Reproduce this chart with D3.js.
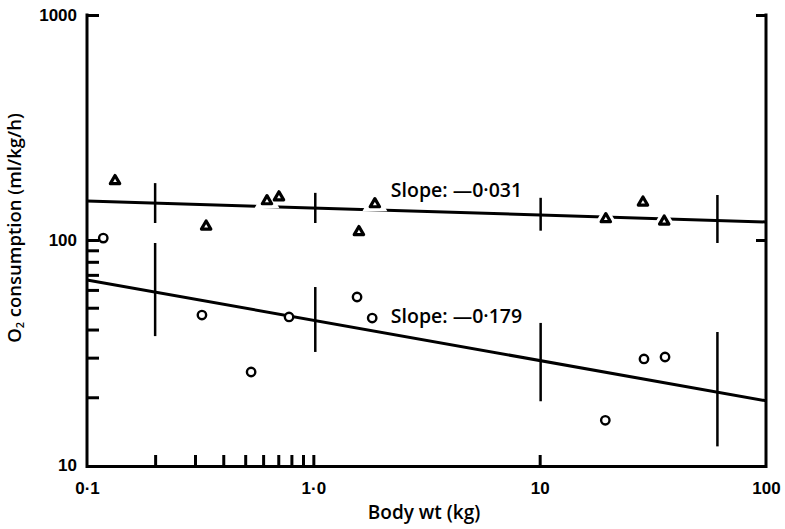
<!DOCTYPE html>
<html>
<head>
<meta charset="utf-8">
<script src="https://cdn.jsdelivr.net/npm/d3@7"></script>
<style>
  body { margin: 0; background: #fff; }
  svg { display: block; }
  .tick-num { font-family: "Liberation Sans", Arial, sans-serif; font-weight: bold; font-size: 17px; fill: #000; }
  .title { font-family: "Open Sans", "Lato", sans-serif; font-weight: 600; fill: #000; }
</style>
</head>
<body>
<svg id="chart" width="785" height="529"></svg>
<script>
// Triangles (upper series)
const triMass = [0.133, 0.336, 0.624, 0.705, 1.59, 1.87, 19.6, 28.6, 35.5];
const triO2 = [183, 115, 149, 155, 108.6, 144.5, 124, 147, 121];

// Circles (lower series)
const circMass = [0.118, 0.322, 0.531, 0.781, 1.56, 1.82, 19.5, 28.9, 35.8];
const circO2 = [102, 46.4, 25.9, 45.5, 55.8, 45, 15.8, 29.6, 30.2];

// Regression lines: O2 = a * wt^b
const slopes = [-0.031, -0.179];
const intercepts = [138.7, 44];
const slopeLabels = ["Slope: \u20140\u00b7031", "Slope: \u20140\u00b7179"];

// Vertical range bars on each line
const barMass = [0.2, 1.02, 10.1, 61];
const upperLow = [119, 119, 110, 97];
const upperHigh = [179, 162, 154, 158.5];
const lowerLow = [37.4, 31.8, 19.2, 12.1];
const lowerHigh = [97, 61.8, 42.8, 39];

// Tick values
const yMajor = [10, 100, 1000];
const yMinor = [20, 30, 40, 50, 60, 70, 80, 90, 100, 1000];
const xMajor = [0.1, 1, 10, 100];
const xLabels = ["0\u00b71", "1\u00b70", "10", "100"];
const xMinor = [0.2, 0.3, 0.4, 0.5, 0.6, 0.7, 0.8, 0.9, 1, 10];

const svg = d3.select('#chart');

const x = d3.scaleLog().domain([0.1, 100]).range([87, 766]);
const y = d3.scaleLog().domain([10, 1000]).range([465, 15]);

// frame: left, right, bottom
const frame = svg.append('g').attr('stroke', '#000').attr('stroke-width', 3);
frame.append('line').attr('x1', x(0.1)).attr('x2', x(0.1)).attr('y1', y(1000) - 1.5).attr('y2', y(10) + 3);
frame.append('line').attr('x1', x(100)).attr('x2', x(100)).attr('y1', y(1000) - 1.5).attr('y2', y(10) + 3);
frame.append('line').attr('x1', x(0.1)).attr('x2', x(100)).attr('y1', y(10) + 1.5).attr('y2', y(10) + 1.5);

const styleAxis = (g, w) => {
  g.select('.domain').remove();
  g.selectAll('.tick line').attr('stroke', '#000').attr('stroke-width', w);
  g.selectAll('.tick text').attr('class', 'tick-num').attr('font-family', null).attr('font-size', null);
};

// left axis labels
svg.append('g')
  .attr('transform', `translate(${x(0.1)},0)`)
  .call(d3.axisLeft(y).tickValues(yMajor).tickSize(0).tickPadding(10).tickFormat(d3.format('d')))
  .call(g => styleAxis(g, 0));

// left minor ticks, pointing inward
svg.append('g')
  .attr('transform', `translate(${x(0.1)},0)`)
  .call(d3.axisRight(y).tickValues(yMinor).tickSize(12).tickFormat(''))
  .call(g => styleAxis(g, 3));

// right axis ticks, pointing inward
svg.append('g')
  .attr('transform', `translate(${x(100)},0)`)
  .call(d3.axisLeft(y).tickValues([100, 1000]).tickSize(10).tickFormat(''))
  .call(g => styleAxis(g, 3));

// bottom labels
svg.append('g')
  .attr('transform', `translate(0,${y(10) + 1})`)
  .call(d3.axisBottom(x).tickValues(xMajor).tickSize(0).tickPadding(16).tickFormat((d, i) => xLabels[i]))
  .call(g => styleAxis(g, 0));

// bottom minor ticks, pointing up
svg.append('g')
  .attr('transform', `translate(0,${y(10) + 1})`)
  .call(d3.axisTop(x).tickValues(xMinor).tickSize(11).tickFormat(''))
  .call(g => styleAxis(g, 3));

// axis titles
svg.append('text')
  .attr('class', 'title')
  .style('font-size', '19px')
  .attr('x', 424).attr('y', 519)
  .attr('text-anchor', 'middle')
  .text('Body wt (kg)');

const yt = svg.append('text')
  .attr('class', 'title')
  .style('font-size', '18.5px')
  .attr('transform', 'translate(21,228) rotate(-90)')
  .attr('text-anchor', 'middle');
yt.append('tspan').text('O');
yt.append('tspan').style('font-size', '11px').attr('dy', 3).text('2');
yt.append('tspan').attr('dy', -3).text(' consumption (ml/kg/h)');

// regression lines
const fit = (i, m) => intercepts[i] * Math.pow(m, slopes[i]);
const lineMass = [0.1, 100];
slopes.forEach((s, i) => {
  const line = d3.line().x(d => x(d)).y(d => y(fit(i, d)));
  svg.append('path')
    .datum(lineMass)
    .attr('d', line)
    .attr('fill', 'none')
    .attr('stroke', '#000')
    .attr('stroke-width', 3);
});

// range bars
const drawBars = (lo, hi) => {
  svg.append('g').selectAll('line').data(barMass)
    .enter().append('line')
    .attr('x1', d => x(d)).attr('x2', d => x(d))
    .attr('y1', (d, i) => y(hi[i])).attr('y2', (d, i) => y(lo[i]))
    .attr('stroke', '#000').attr('stroke-width', 2.5);
};
drawBars(upperLow, upperHigh);
drawBars(lowerLow, lowerHigh);

// slope labels
slopeLabels.forEach((t, i) => {
  svg.append('text')
    .attr('class', 'title')
    .style('font-size', '19.5px')
    .attr('x', x(2.2))
    .attr('y', y(fit(i, 2.2)) - (i === 0 ? 13 : 11))
    .text(t);
});

// triangles, with white halo to break the line
const tri = d3.symbol().type(d3.symbolTriangle).size(38);
const triData = triMass.map((m, i) => ({ m: m, v: triO2[i] }));
svg.append('g').selectAll('path.halo').data(triData)
  .enter().append('path')
  .attr('transform', d => `translate(${x(d.m)},${y(d.v)})`)
  .attr('d', tri)
  .attr('fill', '#fff').attr('stroke', '#fff').attr('stroke-width', 9);
svg.append('g').selectAll('path').data(triData)
  .enter().append('path')
  .attr('transform', d => `translate(${x(d.m)},${y(d.v)})`)
  .attr('d', tri)
  .attr('fill', '#fff').attr('stroke', '#000').attr('stroke-width', 3.2)
  .attr('stroke-linejoin', 'round');

// circles
const circData = circMass.map((m, i) => ({ m: m, v: circO2[i] }));
svg.append('g').selectAll('circle').data(circData)
  .enter().append('circle')
  .attr('cx', d => x(d.m)).attr('cy', d => y(d.v))
  .attr('r', 4.2)
  .attr('fill', '#fff').attr('stroke', '#000').attr('stroke-width', 2.4);
</script>
</body>
</html>
